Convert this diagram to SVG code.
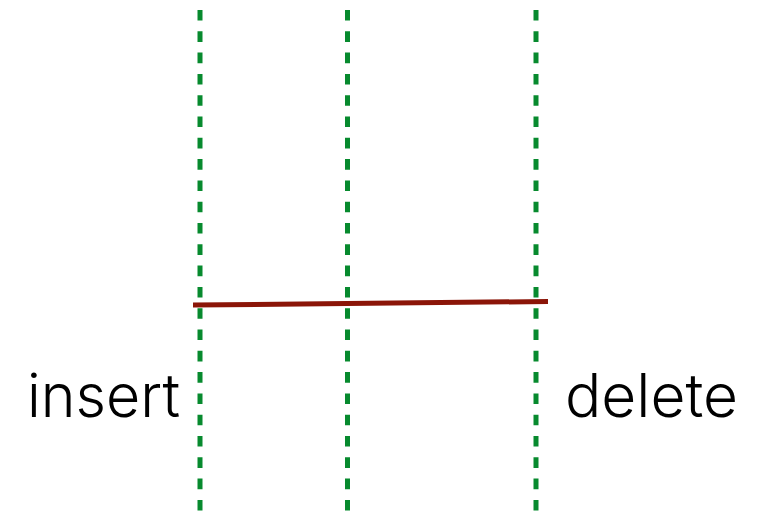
<svg xmlns="http://www.w3.org/2000/svg" width="758" height="511" viewBox="0 0 758 511">
<style>
.g{stroke:#078a2e;stroke-width:5;stroke-dasharray:10.6 10.7;fill:none}
.t{font-family:Inter,"Liberation Sans",Arial,sans-serif;font-weight:300;font-size:60px;fill:#000}
</style>
<rect width="758" height="511" fill="#fff"/>
<g id="connectors">
<line class="g" x1="200" y1="10" x2="200" y2="511"/>
<line class="g" x1="347.5" y1="10" x2="347.5" y2="511"/>
<line class="g" x1="536" y1="10" x2="536" y2="511"/>
<line x1="193" y1="305" x2="548" y2="301.5" stroke="#8b1508" stroke-width="5"/>
</g>
<g id="insert"><text class="t" x="27" y="417" textLength="153" lengthAdjust="spacingAndGlyphs">insert</text></g>
<g id="delete"><text class="t" x="565" y="417" textLength="173" lengthAdjust="spacingAndGlyphs">delete</text></g>
</svg>
